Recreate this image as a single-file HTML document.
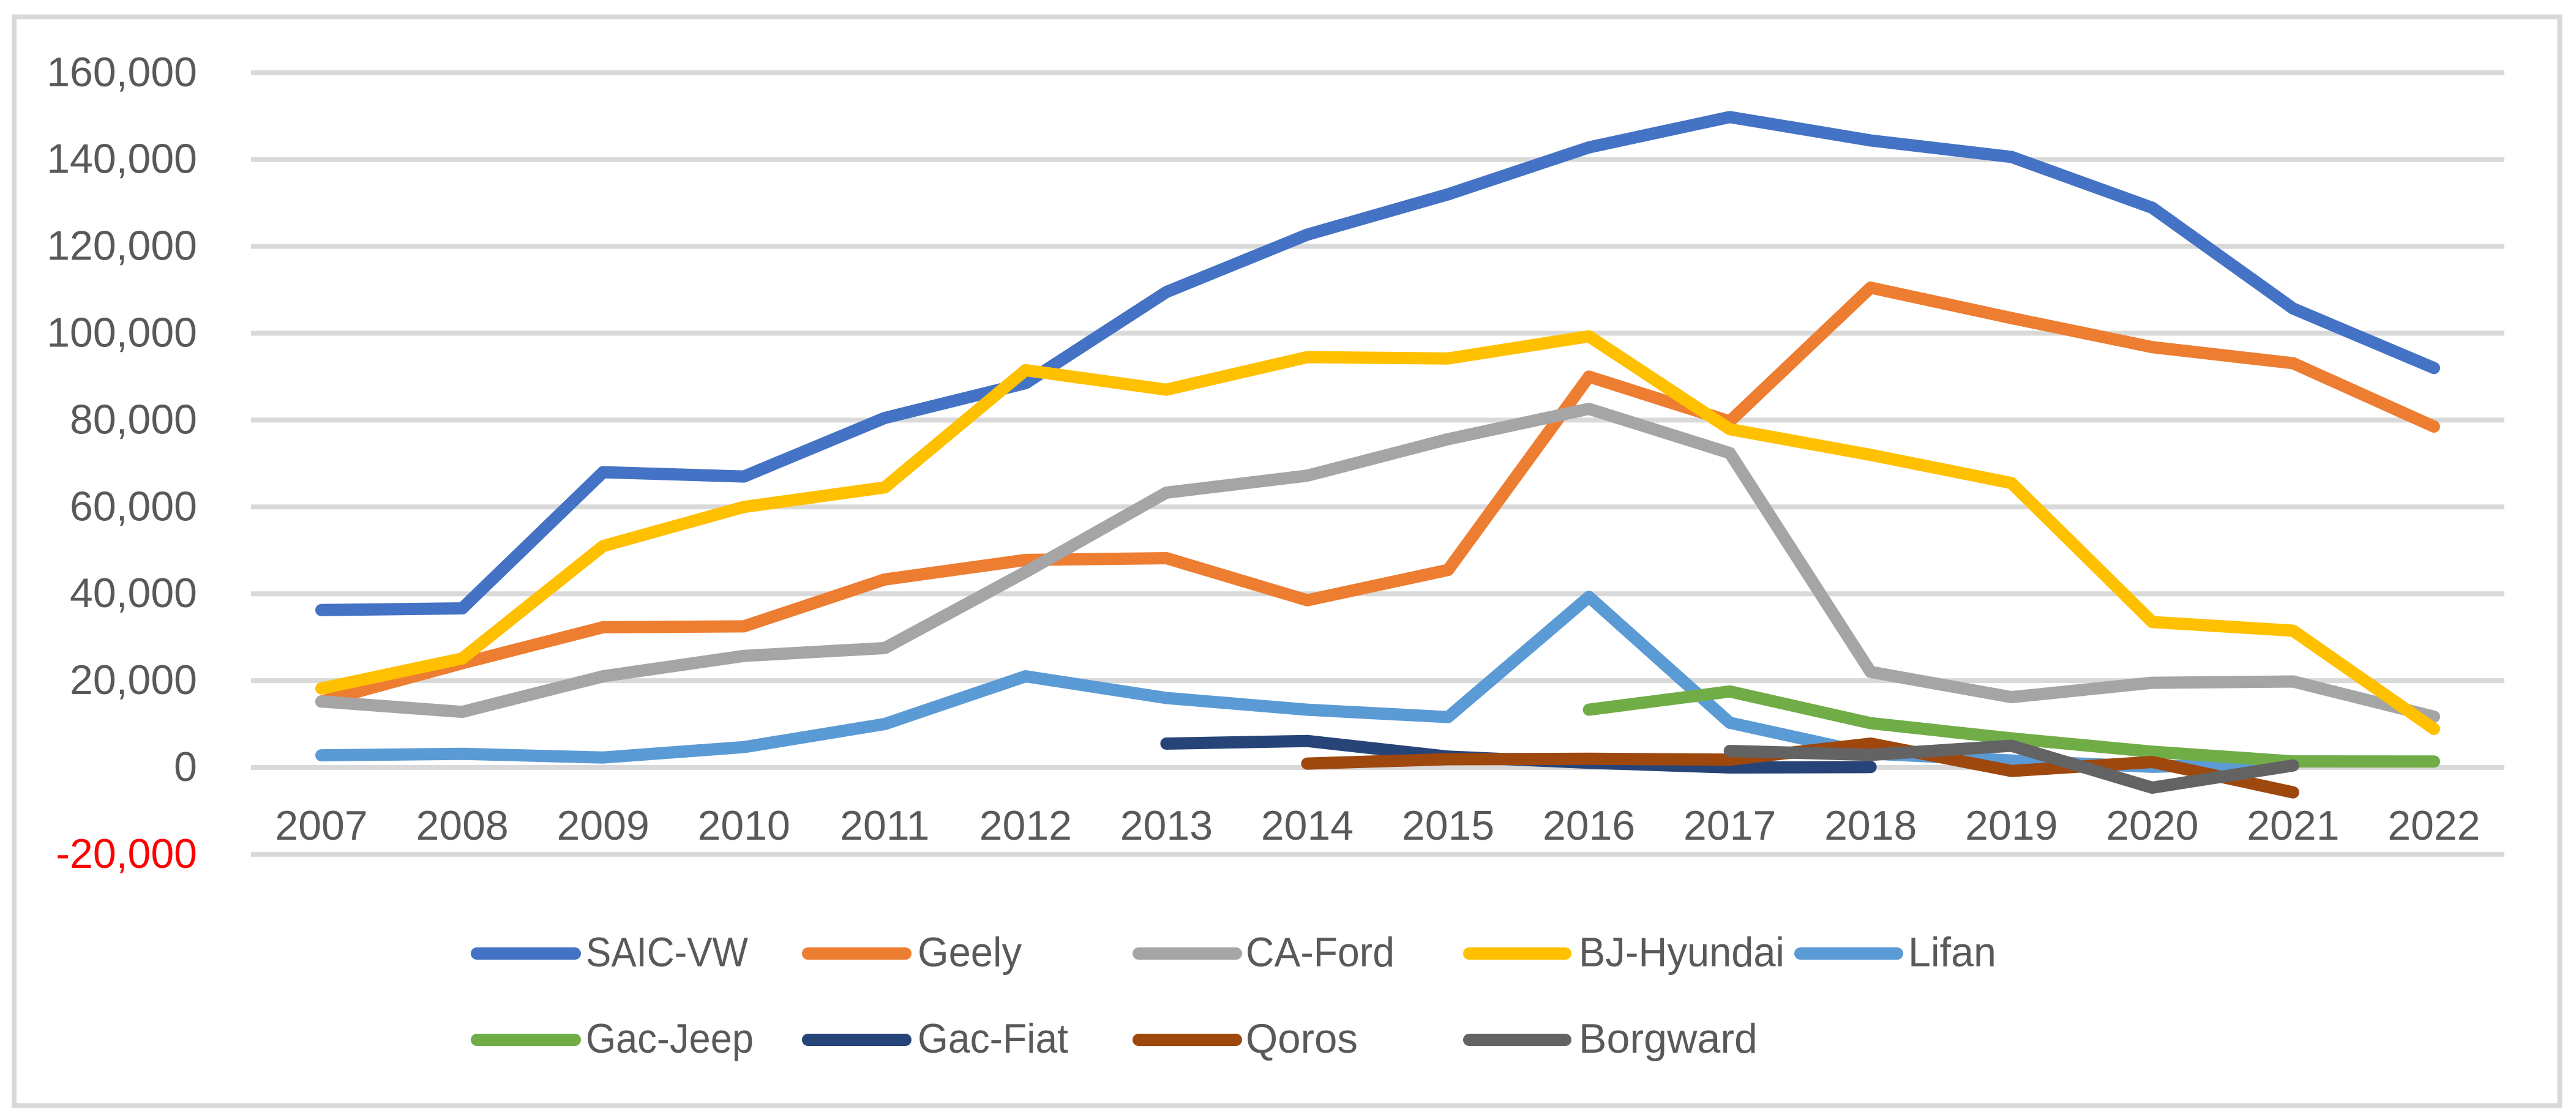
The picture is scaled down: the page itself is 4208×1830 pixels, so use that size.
<!DOCTYPE html>
<html lang="en">
<head>
<meta charset="utf-8">
<title>Annual sales by joint venture, 2007-2022</title>
<style>
html,body{margin:0;padding:0;background:#fff;width:4208px;height:1830px;overflow:hidden}
svg{display:block}
text{font-family:"Liberation Sans",sans-serif;font-size:68px;fill:#595959}
</style>
</head>
<body>
<svg id="chart" xmlns="http://www.w3.org/2000/svg" width="4208" height="1830" viewBox="0 0 4208 1830">
  <rect x="0" y="0" width="4208" height="1830" fill="#ffffff"/>
  <rect x="23" y="27.5" width="4158.5" height="1779" fill="#ffffff" stroke="#D9D9D9" stroke-width="8"/>
  <g id="grid"></g>
  <g id="yaxis"></g>
  <g id="xaxis"></g>
  <g id="series"></g>
  <g stroke-width="20" stroke-linecap="round">
    <g>
      <line x1="779" x2="939" y1="1558" y2="1558" stroke="#4472C4"/>
      <text stroke="none" x="957" y="1579" textLength="265" lengthAdjust="spacingAndGlyphs">SAIC-VW</text>
    </g>
    <g>
      <line x1="1320" x2="1479" y1="1558" y2="1558" stroke="#ED7D31"/>
      <text stroke="none" x="1499" y="1579" textLength="170" lengthAdjust="spacingAndGlyphs">Geely</text>
    </g>
    <g>
      <line x1="1860" x2="2019" y1="1558" y2="1558" stroke="#A5A5A5"/>
      <text stroke="none" x="2035" y="1579" textLength="243" lengthAdjust="spacingAndGlyphs">CA-Ford</text>
    </g>
    <g>
      <line x1="2400" x2="2557" y1="1558" y2="1558" stroke="#FFC000"/>
      <text stroke="none" x="2579" y="1579" textLength="336" lengthAdjust="spacingAndGlyphs">BJ-Hyundai</text>
    </g>
    <g>
      <line x1="2941" x2="3099" y1="1558" y2="1558" stroke="#5B9BD5"/>
      <text stroke="none" x="3117" y="1579" textLength="144" lengthAdjust="spacingAndGlyphs">Lifan</text>
    </g>
    <g>
      <line x1="779" x2="939" y1="1699" y2="1699" stroke="#70AD47"/>
      <text stroke="none" x="957" y="1720" textLength="274" lengthAdjust="spacingAndGlyphs">Gac-Jeep</text>
    </g>
    <g>
      <line x1="1320" x2="1479" y1="1699" y2="1699" stroke="#264478"/>
      <text stroke="none" x="1499" y="1720" textLength="246" lengthAdjust="spacingAndGlyphs">Gac-Fiat</text>
    </g>
    <g>
      <line x1="1860" x2="2019" y1="1699" y2="1699" stroke="#9E480E"/>
      <text stroke="none" x="2035" y="1720" textLength="183" lengthAdjust="spacingAndGlyphs">Qoros</text>
    </g>
    <g>
      <line x1="2400" x2="2557" y1="1699" y2="1699" stroke="#636363"/>
      <text stroke="none" x="2579" y="1720" textLength="292" lengthAdjust="spacingAndGlyphs">Borgward</text>
    </g>
  </g>
</svg>
<script>
const years = ["2007","2008","2009","2010","2011","2012","2013","2014","2015","2016","2017","2018","2019","2020","2021","2022"];
const yTicks = [160000,140000,120000,100000,80000,60000,40000,20000,0,-20000];
const saicVW = [36250,36650,68000,67000,80500,88500,109500,122700,132000,142800,149800,144400,140600,128900,105700,92000];
const geely = [15200,24000,32300,32500,43300,47800,48200,38500,45500,90000,79700,110500,103500,96800,93100,78500];
const caFord = [15200,12800,21000,25700,27500,45000,63300,67200,75600,82600,72400,22000,16200,19500,19800,11700];
const bjHyundai = [18200,25100,51000,60000,64500,91500,87000,94500,94200,99300,77900,72000,65500,33500,31500,8900];
const lifan = [2800,3150,2300,4700,10000,21000,16000,13300,11600,39300,10300,3200,1600,150,1000,null];
const gacJeep = [null,null,null,null,null,null,null,null,null,13300,17500,10200,6700,3640,1400,1370];
const gacFiat = [null,null,null,null,null,null,5500,6100,2500,1100,0,100,null,null,null,null];
const qoros = [null,null,null,null,null,null,null,900,1900,2000,1800,5500,-800,1270,-5730,null];
const borgward = [null,null,null,null,null,null,null,null,null,null,3800,2900,5000,-4650,470,null];

const NS = "http://www.w3.org/2000/svg";
const plotLeft = 410, plotRight = 4091, zeroY = 1254, unitsPerStep = 20000, stepPx = 141.9;
const xStep = (plotRight - plotLeft) / years.length;
function xScale(i){ return plotLeft + xStep * (i + 0.5); }
function yScale(v){ return zeroY - v / unitsPerStep * stepPx; }
function fmt(v){ return v.toLocaleString("en-US"); }

const gridG = document.getElementById("grid");
const yG = document.getElementById("yaxis");
const xG = document.getElementById("xaxis");
const seriesG = document.getElementById("series");

yTicks.forEach(function(t){
  const l = document.createElementNS(NS,"line");
  
  
  l.setAttribute("x1", plotLeft);
  l.setAttribute("x2", plotRight);
  l.setAttribute("y1", yScale(t));
  l.setAttribute("y2", yScale(t));
  l.setAttribute("stroke", "#D9D9D9");
  l.setAttribute("stroke-width", "8");
  gridG.appendChild(l);
  const s = document.createElementNS(NS,"text");
  
  
  s.setAttribute("x", 322);
  s.setAttribute("y", yScale(t) + 22);
  s.setAttribute("text-anchor", "end");
  if (t < 0) s.style.fill = "#FF0000";
  s.textContent = fmt(t);
  yG.appendChild(s);
});

years.forEach(function(y,i){
  const s = document.createElementNS(NS,"text");
  
  
  s.setAttribute("x", xScale(i));
  s.setAttribute("y", 1372);
  s.setAttribute("text-anchor", "middle");
  s.textContent = y;
  xG.appendChild(s);
});

function drawSeries(name, values, color){
  const pts = [];
  values.forEach(function(v,i){
    if (v !== null) pts.push(xScale(i).toFixed(1) + "," + yScale(v).toFixed(1));
  });
  const p = document.createElementNS(NS,"polyline");
  
  
  p.setAttribute("points", pts.join(" "));
  p.setAttribute("fill", "none");
  p.setAttribute("stroke", color);
  p.setAttribute("stroke-width", "20");
  p.setAttribute("stroke-linecap", "round");
  p.setAttribute("stroke-linejoin", "round");
  seriesG.appendChild(p);
}

drawSeries("saic-vw", saicVW, "#4472C4");
drawSeries("geely", geely, "#ED7D31");
drawSeries("ca-ford", caFord, "#A5A5A5");
drawSeries("bj-hyundai", bjHyundai, "#FFC000");
drawSeries("lifan", lifan, "#5B9BD5");
drawSeries("gac-jeep", gacJeep, "#70AD47");
drawSeries("gac-fiat", gacFiat, "#264478");
drawSeries("qoros", qoros, "#9E480E");
drawSeries("borgward", borgward, "#636363");
</script>
</body>
</html>
